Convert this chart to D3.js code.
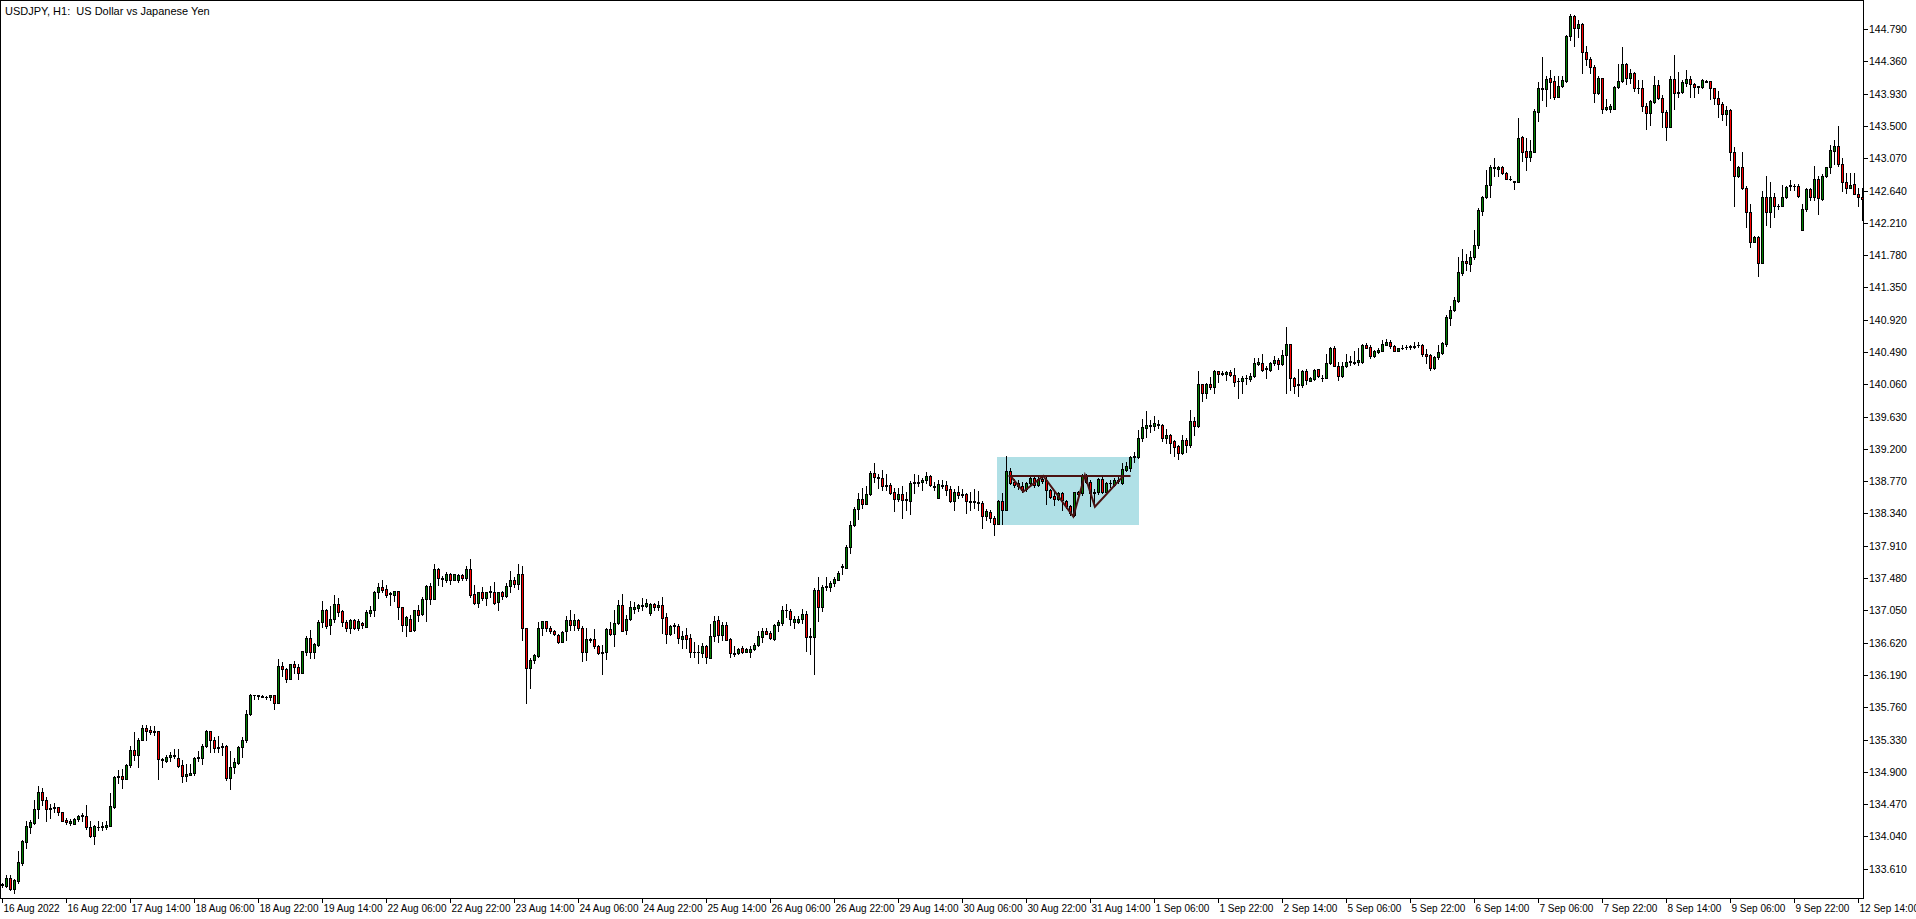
<!DOCTYPE html>
<html><head><meta charset="utf-8">
<script src="https://cdn.jsdelivr.net/npm/d3@7/dist/d3.min.js"></script>
<style>html,body{margin:0;padding:0;background:#fff;overflow:hidden}svg{display:block}text{white-space:pre}</style>
</head><body><svg id="chart" width="1916" height="919"></svg>
<script>
const chartTitle = "USDJPY, H1:  US Dollar vs Japanese Yen";
// [open, high, low, close] per H1 bar
const week16Aug = [
[133.39,133.42,133.37,133.41],[133.38,133.52,133.37,133.48],[133.48,133.53,133.32,133.34],[133.34,133.47,133.29,133.46],
[133.45,133.84,133.42,133.70],[133.68,133.99,133.66,133.98],[133.97,134.24,133.89,134.18],[134.17,134.26,134.09,134.23],
[134.22,134.53,134.21,134.41],[134.41,134.71,134.29,134.63],[134.63,134.69,134.46,134.53],[134.53,134.57,134.24,134.40],
[134.40,134.47,134.28,134.42],[134.42,134.48,134.37,134.43],[134.43,134.43,134.33,134.36],[134.36,134.36,134.25,134.25],
[134.26,134.29,134.21,134.23],[134.22,134.27,134.19,134.25],[134.21,134.28,134.20,134.27],[134.27,134.33,134.25,134.31],
[134.31,134.35,134.25,134.32],[134.31,134.46,134.14,134.16],[134.16,134.24,134.03,134.05],[134.05,134.19,133.94,134.18],
[134.16,134.24,134.13,134.17],[134.17,134.23,134.13,134.18],[134.17,134.25,134.14,134.19],[134.18,134.62,134.18,134.45],
[134.43,134.85,134.42,134.83],[134.83,134.93,134.75,134.84],[134.84,134.94,134.68,134.81],[134.81,135.01,134.80,134.99],
[134.99,135.24,134.96,135.19],[135.19,135.43,135.06,135.13],[135.13,135.35,134.97,135.32],[135.32,135.52,135.32,135.49],
[135.48,135.52,135.33,135.45],[135.46,135.51,135.41,135.43],[135.43,135.51,135.39,135.44],[135.44,135.45,134.81,135.07],
[135.07,135.09,134.97,135.06],[135.05,135.13,135.03,135.10],[135.10,135.16,135.04,135.12],[135.11,135.21,135.08,135.13],
[135.09,135.20,134.96,134.98],[134.99,135.06,134.76,134.84],[134.84,135.00,134.78,134.87],[134.86,135.00,134.86,134.89],
[134.88,135.10,134.86,135.09],[135.09,135.18,135.05,135.10],[135.09,135.27,135.01,135.24],[135.24,135.46,135.23,135.44],
[135.44,135.44,135.17,135.32],[135.32,135.37,135.17,135.22],[135.23,135.38,135.17,135.22],[135.23,135.28,135.12,135.24],
[135.24,135.26,134.79,134.82],[134.82,135.18,134.67,134.96],[134.96,135.08,134.88,135.03],[135.02,135.25,135.00,135.23],
[135.23,135.37,135.10,135.32],[135.32,135.72,135.30,135.67],[135.67,135.93,135.66,135.92],[135.92,135.92,135.87,135.92],
[135.91,135.92,135.87,135.92],[135.91,135.92,135.90,135.90],[135.90,135.91,135.87,135.89],[135.89,135.92,135.85,135.92],
[135.92,135.92,135.74,135.82],[135.82,136.40,135.82,136.31],[136.31,136.36,136.18,136.27],[136.27,136.28,136.09,136.14],
[136.14,136.34,136.14,136.33],[136.33,136.38,136.22,136.29],[136.30,136.33,136.14,136.22],[136.22,136.51,136.22,136.51],
[136.50,136.71,136.46,136.68],[136.68,136.79,136.42,136.50],[136.50,136.61,136.41,136.60],[136.59,136.92,136.58,136.90],
[136.89,137.17,136.83,137.06],[137.06,137.07,136.82,136.84],[136.85,137.11,136.74,136.93],[136.94,137.25,136.90,137.14],
[137.14,137.21,136.98,137.03],[137.04,137.05,136.84,136.89],[136.90,136.92,136.77,136.82],[136.82,136.93,136.75,136.92],
[136.92,136.93,136.80,136.81],[136.81,136.93,136.79,136.91]
];
const week22Aug = [
[136.88,136.89,136.82,136.85],[136.83,137.06,136.83,137.03],[137.02,137.11,136.98,137.06],[137.05,137.31,136.97,137.29],
[137.29,137.41,137.21,137.36],[137.36,137.45,137.30,137.32],[137.33,137.39,137.23,137.26],[137.27,137.29,137.12,137.28],
[137.26,137.31,137.17,137.31],[137.31,137.31,136.93,137.09],[137.09,137.10,136.78,136.86],[136.86,136.98,136.71,136.96],
[136.94,136.99,136.78,136.78],[136.79,137.06,136.78,137.06],[137.06,137.12,136.91,136.99],[137.00,137.23,136.99,137.20],
[137.20,137.39,136.91,137.37],[137.37,137.41,137.14,137.20],[137.20,137.67,137.20,137.60],[137.60,137.62,137.39,137.48],
[137.48,137.51,137.37,137.47],[137.46,137.56,137.43,137.54],[137.54,137.55,137.40,137.46],[137.46,137.54,137.45,137.53],
[137.45,137.54,137.43,137.52],[137.52,137.54,137.45,137.48],[137.48,137.64,137.45,137.60],[137.60,137.73,137.23,137.26],
[137.27,137.39,137.14,137.15],[137.15,137.30,137.10,137.30],[137.30,137.36,137.19,137.22],[137.22,137.30,137.12,137.30],
[137.30,137.37,137.23,137.31],[137.30,137.43,137.14,137.15],[137.16,137.30,137.06,137.29],[137.29,137.31,137.20,137.24],
[137.24,137.41,137.23,137.38],[137.38,137.58,137.29,137.46],[137.46,137.49,137.36,137.40],[137.40,137.67,137.33,137.54],
[137.54,137.64,136.66,136.82],[136.82,136.82,135.82,136.28],[136.28,136.41,136.01,136.39],[136.39,136.47,136.35,136.45],
[136.44,136.90,136.43,136.81],[136.81,136.91,136.72,136.91],[136.91,136.91,136.78,136.82],[136.82,136.84,136.75,136.77],
[136.77,136.79,136.72,136.73],[136.72,136.73,136.62,136.63],[136.63,136.78,136.63,136.76],[136.77,136.98,136.66,136.92],
[136.92,137.06,136.79,136.86],[136.86,137.00,136.79,136.92],[136.92,136.93,136.79,136.82],[136.82,136.84,136.38,136.50],
[136.50,136.81,136.39,136.67],[136.67,136.68,136.63,136.66],[136.67,136.80,136.55,136.57],[136.57,136.59,136.47,136.48],
[136.48,136.59,136.20,136.49],[136.49,136.81,136.40,136.80],[136.80,136.90,136.72,136.73],[136.73,137.05,136.57,136.88],
[136.88,137.19,136.87,137.12],[137.12,137.27,136.77,136.78],[136.79,136.99,136.74,136.94],[136.93,137.17,136.92,137.09],
[137.07,137.16,137.01,137.10],[137.08,137.14,137.04,137.12],[137.11,137.22,137.06,137.12],[137.11,137.20,137.10,137.15],
[137.01,137.15,136.99,137.14],[137.14,137.15,137.06,137.10],[137.10,137.17,137.05,137.12],[137.12,137.23,136.75,136.95],
[136.96,137.01,136.61,136.73],[136.73,136.86,136.72,136.84],[136.84,136.88,136.75,136.85],[136.84,136.87,136.62,136.68],
[136.67,136.78,136.55,136.71],[136.72,136.81,136.55,136.67],[136.68,136.74,136.43,136.50],[136.50,136.63,136.43,136.49],
[136.49,136.59,136.35,136.50],[136.48,136.62,136.43,136.57],[136.57,136.59,136.35,136.43],[136.42,136.87,136.41,136.71],
[136.71,136.98,136.64,136.91],[136.92,136.98,136.63,136.72],[136.72,136.89,136.66,136.86],[136.86,136.89,136.65,136.66],
[136.67,136.68,136.43,136.48],[136.48,136.58,136.44,136.47],[136.48,136.55,136.47,136.54],[136.55,136.58,136.48,136.50],
[136.50,136.55,136.49,136.53],[136.50,136.57,136.43,136.54],[136.53,136.62,136.52,136.59],[136.59,136.77,136.58,136.71],
[136.70,136.81,136.63,136.78],[136.78,136.81,136.73,136.74],[136.75,136.77,136.67,136.68],[136.67,136.87,136.66,136.86],
[136.86,136.92,136.77,136.90],[136.88,137.11,136.86,137.05],[137.05,137.14,136.96,137.06],[137.04,137.07,136.86,136.93],
[136.90,136.97,136.82,136.94],[136.90,136.97,136.88,136.93],[136.93,137.07,136.88,137.00],[137.00,137.04,136.51,136.70],
[136.70,136.81,136.47,136.71],[136.70,137.35,136.20,137.32],[137.32,137.49,136.91,137.09],[137.09,137.39,137.04,137.36],
[137.36,137.49,137.32,137.37],[137.36,137.44,137.31,137.41],[137.41,137.50,137.38,137.47],[137.46,137.57,137.45,137.55]
];
const week29Aug = [
[137.63,137.67,137.54,137.64],[137.62,137.92,137.62,137.89],[137.89,138.24,137.82,138.19],[138.19,138.42,138.18,138.40],
[138.40,138.61,138.26,138.53],[138.53,138.68,138.41,138.47],[138.47,138.70,138.46,138.60],[138.60,138.91,138.58,138.88],
[138.88,139.01,138.76,138.83],[138.83,138.87,138.68,138.81],[138.81,138.92,138.65,138.71],[138.71,138.87,138.65,138.72],
[138.72,138.75,138.60,138.61],[138.62,138.68,138.37,138.53],[138.53,138.68,138.51,138.60],[138.60,138.71,138.28,138.52],
[138.52,138.62,138.39,138.53],[138.51,138.77,138.33,138.74],[138.75,138.86,138.61,138.76],[138.75,138.85,138.70,138.76],
[138.76,138.81,138.65,138.78],[138.78,138.89,138.74,138.84],[138.84,138.85,138.70,138.72],[138.71,138.76,138.65,138.69],
[138.55,138.79,138.54,138.73],[138.71,138.79,138.68,138.72],[138.72,138.77,138.59,138.65],[138.66,138.70,138.49,138.50],
[138.51,138.66,138.39,138.62],[138.62,138.70,138.54,138.59],[138.60,138.66,138.56,138.59],[138.60,138.61,138.35,138.50],
[138.50,138.62,138.39,138.49],[138.50,138.67,138.41,138.49],[138.49,138.64,138.39,138.48],[138.48,138.50,138.15,138.30],
[138.30,138.40,138.25,138.37],[138.36,138.38,138.23,138.28],[138.28,138.30,138.05,138.20],[138.20,138.52,138.20,138.51],
[138.51,138.61,138.20,138.38],[138.38,139.10,138.38,138.91],[138.91,138.94,138.73,138.74],[138.76,138.80,138.69,138.72],
[138.74,138.78,138.66,138.70],[138.70,138.76,138.63,138.65],[138.66,138.76,138.64,138.74],[138.74,138.83,138.72,138.81],
[138.81,138.83,138.69,138.72],[138.72,138.83,138.70,138.80],[138.80,138.85,138.74,138.77],[138.78,138.84,138.47,138.65],
[138.65,138.67,138.55,138.56],[138.57,138.63,138.45,138.53],[138.53,138.63,138.52,138.61],[138.61,138.63,138.39,138.52],
[138.51,138.52,138.41,138.44],[138.44,138.45,138.32,138.34],[138.32,138.63,138.30,138.62],[138.62,138.64,138.56,138.60],
[138.61,138.87,138.59,138.84],[138.84,138.87,138.74,138.76],[138.76,138.79,138.44,138.61],[138.61,138.67,138.45,138.63],
[138.63,138.81,138.60,138.80],[138.80,138.82,138.61,138.63],[138.63,138.76,138.62,138.74],[138.74,138.79,138.69,138.75],
[138.72,138.81,138.70,138.79],[138.79,138.83,138.74,138.77],[138.74,139.01,138.73,138.93],[138.92,139.03,138.90,138.97],
[138.95,139.10,138.90,139.09],[139.09,139.16,139.03,139.10],[139.09,139.45,139.08,139.34],[139.34,139.60,139.30,139.49],
[139.48,139.70,139.36,139.52],[139.50,139.59,139.43,139.52],[139.50,139.64,139.45,139.54],[139.53,139.59,139.48,139.52],
[139.52,139.53,139.31,139.34],[139.35,139.47,139.28,139.39],[139.39,139.40,139.15,139.28],[139.30,139.32,139.10,139.23],
[139.24,139.25,139.07,139.15],[139.15,139.39,139.13,139.32],[139.32,139.34,139.16,139.25],[139.25,139.72,139.23,139.57],
[139.57,139.63,139.39,139.50],[139.50,140.24,139.49,140.07],[140.07,140.07,139.84,139.94],[139.94,140.08,139.88,140.07],
[140.07,140.16,140.00,140.02],[140.02,140.25,139.94,140.24],[140.24,140.24,140.09,140.20],[140.21,140.24,140.18,140.20],
[140.20,140.24,140.12,140.23],[140.23,140.25,140.17,140.19],[140.19,140.28,140.04,140.09],[140.10,140.14,139.88,140.11],
[140.10,140.17,139.94,140.14],[140.14,140.18,140.07,140.14],[140.13,140.21,140.10,140.17],[140.17,140.41,140.16,140.35],
[140.33,140.41,140.32,140.36],[140.35,140.46,140.24,140.25],[140.27,140.30,140.14,140.28],[140.25,140.36,140.24,140.35],
[140.34,140.44,140.32,140.38],[140.38,140.41,140.27,140.33],[140.33,140.52,140.32,140.45],[140.45,140.82,139.94,140.60],
[140.60,140.60,139.99,140.14],[140.14,140.16,139.94,140.04],[140.05,140.27,139.91,140.06],[140.05,140.25,140.03,140.24],
[140.24,140.26,140.07,140.12],[140.11,140.16,140.10,140.14],[140.13,140.27,140.12,140.25],[140.26,140.27,140.16,140.17]
];
const week5Sep = [
[140.15,140.18,140.10,140.14],[140.15,140.47,140.14,140.34],[140.34,140.56,140.33,140.55],[140.55,140.57,140.30,140.31],
[140.31,140.36,140.12,140.17],[140.17,140.36,140.16,140.31],[140.30,140.47,140.29,140.36],[140.36,140.44,140.32,140.37],
[140.36,140.50,140.33,140.35],[140.36,140.55,140.32,140.38],[140.36,140.60,140.35,140.58],[140.58,140.61,140.54,140.55],
[140.56,140.58,140.41,140.44],[140.44,140.52,140.42,140.50],[140.49,140.54,140.48,140.52],[140.51,140.65,140.50,140.60],
[140.59,140.67,140.58,140.62],[140.62,140.65,140.54,140.57],[140.57,140.58,140.50,140.50],[140.50,140.55,140.50,140.54],
[140.55,140.58,140.53,140.55],[140.56,140.59,140.53,140.56],[140.56,140.59,140.53,140.57],[140.56,140.62,140.54,140.57],
[140.58,140.62,140.56,140.59],[140.59,140.60,140.44,140.46],[140.47,140.53,140.35,140.44],[140.45,140.46,140.25,140.28],
[140.28,140.44,140.27,140.43],[140.42,140.59,140.40,140.49],[140.48,140.63,140.47,140.61],[140.60,140.98,140.57,140.95],
[140.94,141.10,140.85,141.05],[141.05,141.22,141.04,141.18],[141.17,141.75,141.16,141.55],[141.54,141.86,141.52,141.70],
[141.70,141.80,141.58,141.67],[141.66,141.83,141.57,141.76],[141.76,142.12,141.73,141.92],[141.91,142.41,141.88,142.38],
[142.37,142.57,142.31,142.55],[142.55,142.91,142.54,142.71],[142.71,142.98,142.56,142.95],[142.94,143.07,142.83,142.95],
[142.93,142.97,142.84,142.95],[142.95,142.97,142.86,142.88],[142.88,142.89,142.79,142.80],[142.80,142.84,142.78,142.79],
[142.77,142.77,142.66,142.75],[142.76,143.61,142.76,143.34],[143.35,143.37,143.03,143.16],[143.17,143.34,142.92,143.09],
[143.09,143.31,143.04,143.17],[143.16,143.72,143.15,143.70],[143.69,144.08,143.56,144.00],[143.99,144.42,143.84,144.00],
[143.99,144.17,143.76,144.13],[144.14,144.25,143.87,144.09],[144.10,144.16,143.86,143.89],[143.89,144.16,143.88,144.03],
[144.03,144.16,144.02,144.11],[144.10,144.71,144.09,144.70],[144.70,144.99,144.65,144.97],[144.97,144.98,144.57,144.81],
[144.81,144.91,144.69,144.86],[144.86,144.87,144.21,144.49],[144.49,144.56,144.31,144.39],[144.39,144.42,144.20,144.29],
[144.29,144.31,143.82,143.94],[143.94,144.16,143.93,144.14],[144.14,144.14,143.67,143.72],[143.72,143.86,143.71,143.75],
[143.73,143.79,143.68,143.76],[143.73,144.03,143.72,144.02],[144.02,144.33,144.01,144.10],[144.10,144.55,144.09,144.33],
[144.33,144.34,144.06,144.14],[144.14,144.26,144.07,144.21],[144.21,144.22,143.96,144.00],[144.01,144.11,143.94,144.00],
[144.00,144.11,143.70,143.76],[143.77,143.81,143.46,143.67],[143.67,143.84,143.51,143.83],[143.82,144.16,143.81,144.04],
[144.04,144.11,143.86,143.87],[143.87,143.91,143.48,143.69],[143.69,143.71,143.31,143.48],[143.48,144.16,143.48,144.12],
[144.12,144.45,143.72,143.94],[143.95,144.22,143.88,143.94],[143.95,144.11,143.94,144.08],[144.07,144.25,144.03,144.13],
[144.13,144.16,143.88,144.06],[144.06,144.07,143.88,144.02],[144.02,144.03,143.94,144.03],[144.02,144.12,144.00,144.11],
[144.10,144.11,144.08,144.09],[144.10,144.10,143.86,144.00],[144.00,144.00,143.79,143.87],[143.87,143.96,143.62,143.79],
[143.79,143.82,143.58,143.66],[143.66,143.76,143.51,143.71],[143.71,143.72,143.05,143.15],[143.15,143.22,142.44,142.83],
[142.83,142.97,142.82,142.96],[142.96,143.15,142.66,142.67],[142.67,142.70,142.15,142.36],[142.36,142.46,141.89,141.96],
[141.96,142.04,141.95,142.02],[142.02,142.03,141.50,141.68],[141.68,142.64,141.67,142.55],[142.56,142.83,142.18,142.35],
[142.35,142.75,142.16,142.56],[142.56,142.61,142.29,142.44],[142.44,142.46,142.40,142.43],[142.44,142.71,142.43,142.56],
[142.55,142.70,142.54,142.69],[142.70,142.78,142.65,142.71],[142.70,142.73,142.65,142.70],[142.70,142.73,142.56,142.57]
];
const week12Sep = [
[142.12,142.46,142.11,142.40],[142.39,142.67,142.37,142.66],[142.66,142.67,142.51,142.56],[142.56,142.97,142.51,142.80],
[142.80,142.83,142.33,142.54],[142.53,142.86,142.52,142.83],[142.83,142.96,142.82,142.95],[142.95,143.25,142.88,143.18],
[143.17,143.31,143.00,143.24],[143.24,143.50,142.97,142.99],[143.00,143.07,142.63,142.76],[142.76,142.87,142.61,142.68],
[142.68,142.87,142.67,142.72],[142.73,142.87,142.59,142.60],[142.60,142.67,142.43,142.55],[142.56,142.67,142.25,142.53]
];
const priceTicks = [133.61,134.04,134.47,134.90,135.33,135.76,136.19,136.62,137.05,137.48,137.91,138.34,138.77,139.20,
  139.63,140.06,140.49,140.92,141.35,141.78,142.21,142.64,143.07,143.50,143.93,144.36,144.79];
const timeLabels = ["16 Aug 2022","16 Aug 22:00","17 Aug 14:00","18 Aug 06:00","18 Aug 22:00","19 Aug 14:00",
  "22 Aug 06:00","22 Aug 22:00","23 Aug 14:00","24 Aug 06:00","24 Aug 22:00","25 Aug 14:00","26 Aug 06:00",
  "26 Aug 22:00","29 Aug 14:00","30 Aug 06:00","30 Aug 22:00","31 Aug 14:00","1 Sep 06:00","1 Sep 22:00",
  "2 Sep 14:00","5 Sep 06:00","5 Sep 22:00","6 Sep 14:00","7 Sep 06:00","7 Sep 22:00","8 Sep 14:00",
  "9 Sep 06:00","9 Sep 22:00","12 Sep 14:00"];
const timeLabelEvery = 16; // bars between time labels
// annotation objects (bar index, price)
const rectBars = [248.5, 284];
const rectPrices = [139.09, 138.19];
const necklineBars = [251.5, 282];
const necklinePrice = 138.84;
const patternBars = [252, 255.2, 260.2, 267.7, 270.6, 273.1, 280.2];
const patternPrices = [138.84, 138.63, 138.84, 138.30, 138.85, 138.43, 138.84];

const bars = [].concat(week16Aug, week22Aug, week29Aug, week5Sep, week12Sep)
  .map((d, i) => ({i, o: d[0], h: d[1], l: d[2], c: d[3]}));

const plotRight = 1863, plotBottom = 898;
const FONT = "'Liberation Sans', Arial, sans-serif";
const svg = d3.select("#chart");
svg.append("rect").attr("width", 1916).attr("height", 919).attr("fill", "#fff");

const x = d3.scaleLinear().domain([0, bars.length - 1]).range([2.5, 2.5 + 4 * (bars.length - 1)]);
const y = d3.scaleLinear().domain([133.61, 144.79]).range([868.7, 29.1]);

const plot = svg.append("g").attr("shape-rendering", "crispEdges");

// background rectangle object
plot.append("rect")
  .attr("x", x(rectBars[0])).attr("y", y(rectPrices[0]))
  .attr("width", x(rectBars[1]) - x(rectBars[0]))
  .attr("height", y(rectPrices[1]) - y(rectPrices[0]))
  .attr("fill", "#b0e0e6");

const bullColor = "#008000", bearColor = "#ff0000";
const g = plot.append("g");
bars.forEach(d => {
  const cx = x(d.i);
  const hi = Math.max(d.h, d.o, d.c), lo = Math.min(d.l, d.o, d.c);
  const yh = Math.round(y(hi)), yl = Math.round(y(lo));
  g.append("rect").attr("x", cx - 0.5).attr("y", yh).attr("width", 1).attr("height", yl - yh + 1).attr("fill", "#000");
  const top = Math.round(y(Math.max(d.o, d.c))), bot = Math.round(y(Math.min(d.o, d.c)));
  if (bot - top < 2) {
    g.append("rect").attr("x", cx - 1.5).attr("y", top).attr("width", 3).attr("height", Math.max(1, bot - top + 1)).attr("fill", "#000");
  } else {
    g.append("rect").attr("x", cx - 1).attr("y", top + 0.5).attr("width", 2).attr("height", bot - top)
      .attr("fill", d.c >= d.o ? bullColor : bearColor).attr("stroke", "#000").attr("stroke-width", 1);
  }
});

// pattern lines
const lineCol = "#4a1212";
svg.append("line")
  .attr("x1", x(necklineBars[0])).attr("x2", x(necklineBars[1]))
  .attr("y1", y(necklinePrice)).attr("y2", y(necklinePrice))
  .attr("stroke", lineCol).attr("stroke-width", 2);
svg.append("path")
  .attr("d", d3.line().x((b) => x(b)).y((b, k) => y(patternPrices[k]))(patternBars))
  .attr("fill", "none").attr("stroke", lineCol).attr("stroke-width", 2);

// frame and axes
const ax = svg.append("g").attr("shape-rendering", "crispEdges");
ax.append("rect").attr("x", 0.5).attr("y", 0.5).attr("width", plotRight).attr("height", plotBottom)
  .attr("fill", "none").attr("stroke", "#000");

priceTicks.forEach(p => {
  const yy = Math.round(y(p)) + 0.5;
  ax.append("line").attr("x1", plotRight).attr("x2", plotRight + 5).attr("y1", yy).attr("y2", yy).attr("stroke", "#000");
  svg.append("text").attr("x", plotRight + 6).attr("y", yy).attr("dy", "0.35em")
    .attr("font-family", FONT).attr("font-size", 10.5).attr("fill", "#000").text(p.toFixed(3));
});

timeLabels.forEach((t, k) => {
  const xx = Math.floor(x(k * timeLabelEvery)) + 0.5;
  ax.append("line").attr("x1", xx).attr("x2", xx).attr("y1", plotBottom).attr("y2", plotBottom + 5).attr("stroke", "#000");
  svg.append("text").attr("x", xx + 1).attr("y", plotBottom + 10).attr("dy", "0.35em")
    .attr("font-family", FONT).attr("font-size", 10).attr("fill", "#000").text(t);
});

svg.append("text").attr("x", 5).attr("y", 11).attr("dy", "0.35em")
  .attr("font-family", FONT).attr("font-size", 11).attr("fill", "#000").text(chartTitle);
</script>
</body></html>
